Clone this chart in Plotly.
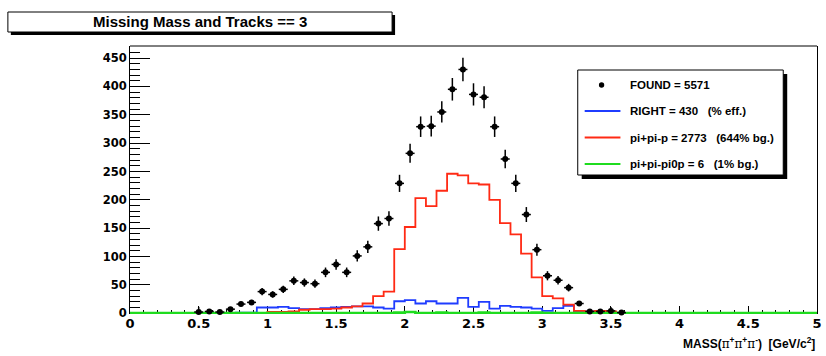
import plotly.graph_objects as go

# ---- histogram binning: 65 bins of missing mass between 0 and 5 GeV/c^2 ----
x_min, x_max, n_bins = 0.0, 5.0, 65

# FOUND events per bin (None = empty bin, no point drawn)
found = [None] * 6 + [
    2, 3, 2, 7, 16, 19,
    38, 33, 42, 57, 54, 52, 72, 86, 72,
    101, 117, 158, 167, 229, 282, 329, 330, 355, 395, 430, 386, 381, 329, 272, 229, 174, 112,
    66, 58, 45, 17, 3, 3, 4, 1,
] + [None] * 18

found_err = [None] * 6 + [
    9, 3, 3, 3, 4, 4.4,
    6.2, 5.7, 6.5, 7.5, 7.3, 7.2, 8.5, 9.3, 8.5,
    10, 10.8, 12.6, 12.9, 15.1, 16.8, 18.1, 18.2, 18.8, 19.9, 20.7, 19.6, 19.5, 18.1, 16.5, 15.1, 13.2, 10.6,
    8.1, 7.6, 6.7, 4.1, 2.5, 2.5, 7, 4,
] + [None] * 18

# RIGHT (true signal) per bin
right = [0] * 10 + [
    1, 1,
    10, 10, 11, 9, 7, 7, 9, 10, 11, 12, 12, 10, 8,
    21, 23, 17, 21, 17, 17, 27, 11, 20, 8, 13, 11, 10, 8,
    4, 9, 13, 2, 3, 2, 2,
] + [0] * 19

# pi+ pi- p background per bin
pipip = [0] * 13 + [
    2, 2, 3, 6, 7, 7, 8, 10, 12, 17, 30, 38,
    113, 152, 203, 189, 216, 246, 243, 229, 227, 200, 159, 139, 105,
    63, 30, 26, 15, 4, 3, 4, 3,
] + [0] * 19

# pi+ pi- pi0 p background per bin
pipipi0p = [0] * 25 + [1, 2, 0, 0, 1, 0, 0, 0, 1, 0, 0, 0, 0, 1] + [0] * 26

legend_labels = [
    "FOUND = 5571",
    "RIGHT = 430\u00a0\u00a0\u00a0(% eff.)",
    "pi+pi-p = 2773\u00a0\u00a0\u00a0(644% bg.)",
    "pi+pi-pi0p = 6\u00a0\u00a0\u00a0(1% bg.)",
]
title_text = "Missing Mass and Tracks == 3"

# ---- geometry ----
W, H = 826, 356
L, R, T, B = 130, 4, 46, 42
plot_w = W - L - R
plot_h = H - T - B

BLUE = "#1f3cff"
RED = "#ff2a14"
GREEN = "#1fdc1f"
FONT = "Liberation Sans, Arial, Helvetica, sans-serif"
TICK_FONT = "DejaVu Sans, Liberation Sans, sans-serif"

bin_w = (x_max - x_min) / n_bins
edges = [x_min + i * bin_w for i in range(n_bins + 1)]
centers = [x_min + (i + 0.5) * bin_w for i in range(n_bins)]


def px(x):
    return (x - L) / plot_w


def py(y):
    return (H - B - y) / plot_h


def step_trace(vals, color, width=1.8):
    return go.Scatter(
        x=edges,
        y=list(vals) + [vals[-1]],
        mode="lines",
        line=dict(color=color, width=width, shape="hv"),
        showlegend=False,
        hoverinfo="skip",
    )


fig = go.Figure()
fig.add_trace(step_trace(right, BLUE))
fig.add_trace(step_trace(pipip, RED))
# green histogram lies mostly on zero, covering the bottom frame edge
fig.add_trace(step_trace(pipipi0p, GREEN, width=2.6))

pts = [(c, v, e) for c, v, e in zip(centers, found, found_err) if v is not None]
fig.add_trace(go.Scatter(
    x=[p[0] for p in pts],
    y=[p[1] for p in pts],
    mode="markers",
    marker=dict(symbol="circle", size=6, color="black"),
    error_y=dict(type="data", array=[p[2] for p in pts], color="black", thickness=1.5, width=0),
    error_x=dict(type="constant", value=bin_w / 2 * 0.85, color="black", thickness=1.5, width=0),
    showlegend=False,
    cliponaxis=False,
    hoverinfo="skip",
))

fig.update_xaxes(
    range=[x_min, x_max],
    showline=False,
    showgrid=False,
    zeroline=False,
    ticks="inside",
    ticklen=8,
    tickwidth=1,
    tickcolor="black",
    tick0=0,
    dtick=0.5,
    tickfont=dict(family=TICK_FONT, size=13, color="black", weight="bold"),
    ticklabeloverflow="allow",
    layer="below traces",
    minor=dict(ticks="inside", ticklen=4, dtick=0.1, tick0=0, tickcolor="black", tickwidth=1, showgrid=False),
)
fig.update_yaxes(
    range=[-1.5, 471.4],
    showline=True,
    linecolor="black",
    linewidth=1,
    mirror=True,
    showgrid=False,
    zeroline=False,
    ticks="inside",
    ticklen=20,
    tickwidth=1,
    tickcolor="black",
    tick0=0,
    dtick=50,
    tickfont=dict(family=TICK_FONT, size=11.5, color="black", weight="bold"),
    ticklabeloverflow="allow",
    layer="below traces",
    minor=dict(ticks="inside", ticklen=10, dtick=10, tick0=0, tickcolor="black", tickwidth=1, showgrid=False),
)

shapes = []
# frame top edge
shapes.append(dict(type="line", xref="paper", yref="paper", x0=0, x1=1, y0=1, y1=1,
                   line=dict(color="black", width=1)))
# title box with shadow
shapes.append(dict(type="rect", xref="paper", yref="paper", x0=px(10), x1=px(397), y0=py(35), y1=py(15),
                   fillcolor="black", line=dict(width=0)))
shapes.append(dict(type="rect", xref="paper", yref="paper", x0=px(7), x1=px(394), y0=py(32), y1=py(12),
                   fillcolor="white", line=dict(color="black", width=1)))
# legend box with shadow
shapes.append(dict(type="rect", xref="paper", yref="paper", x0=px(585), x1=px(792), y0=py(179), y1=py(74),
                   fillcolor="black", line=dict(width=0)))
shapes.append(dict(type="rect", xref="paper", yref="paper", x0=px(581), x1=px(788), y0=py(175), y1=py(70),
                   fillcolor="white", line=dict(color="black", width=1)))

row_y = [85, 111, 137.5, 164]
# legend samples
shapes.append(dict(type="circle", xref="paper", yref="paper",
                   x0=px(602.3), x1=px(607.7), y0=py(row_y[0] + 2.7), y1=py(row_y[0] - 2.7),
                   fillcolor="black", line=dict(width=0)))
for yy, col in zip(row_y[1:], [BLUE, RED, GREEN]):
    shapes.append(dict(type="line", xref="paper", yref="paper", x0=px(588), x1=px(624),
                       y0=py(yy), y1=py(yy), line=dict(color=col, width=1.8)))

annotations = [
    dict(text=title_text, xref="paper", yref="paper", x=px(200.5), y=py(22), xanchor="center",
         yanchor="middle", showarrow=False, font=dict(family=FONT, size=15, color="black", weight="bold")),
    dict(text="MASS(<span style='font-family:DejaVu Serif;font-weight:normal'>\u03c0</span><sup>+</sup>"
              "<span style='font-family:DejaVu Serif;font-weight:normal'>\u03c0</span><sup>+</sup>"
              "<span style='font-family:DejaVu Serif;font-weight:normal'>\u03c0</span><sup>-</sup>)"
              "\u00a0\u00a0[GeV/c<sup>2</sup>]",
         xref="paper", yref="paper", x=px(822), y=py(343), xanchor="right", yanchor="middle",
         showarrow=False, font=dict(family=FONT, size=12, color="black", weight="bold")),
]
for yy, lab in zip(row_y, legend_labels):
    annotations.append(dict(text=lab, xref="paper", yref="paper", x=px(632), y=py(yy),
                            xanchor="left", yanchor="middle", showarrow=False,
                            font=dict(family=FONT, size=11.5, color="black", weight="bold")))

fig.update_layout(
    width=W,
    height=H,
    margin=dict(l=L, r=R, t=T, b=B, pad=0),
    paper_bgcolor="white",
    plot_bgcolor="white",
    shapes=shapes,
    annotations=annotations,
    showlegend=False,
)

fig.write_html("out.html", config={"displayModeBar": False})
